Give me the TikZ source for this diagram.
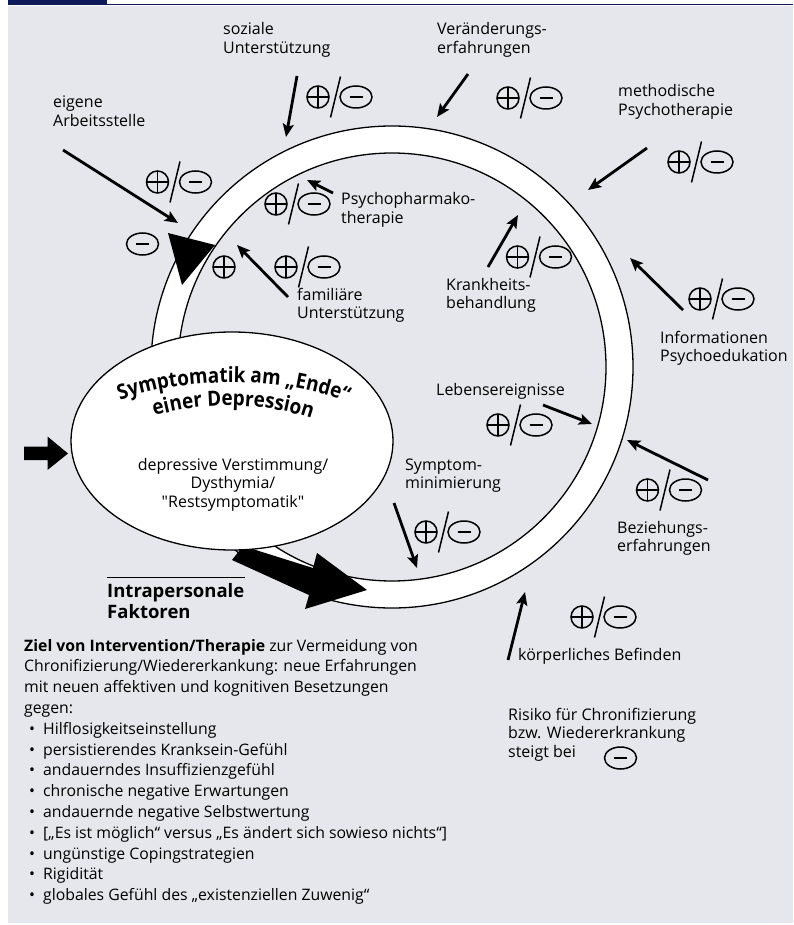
\documentclass[tikz,border=0pt]{standalone}
\usepackage{fontspec}
\setmainfont{Open Sans}[Ligatures=TeXOff]
\newfontfamily\titlefont{Open Sans}[Ligatures=TeXOff,FakeStretch=0.9]
\usetikzlibrary{arrows.meta,decorations.text,shapes.geometric}
\definecolor{bggray}{RGB}{230,231,237}
\definecolor{navyc}{RGB}{14,26,90}
\newcommand\lns[1]{\begin{tabular}[t]{@{}l@{}}#1\end{tabular}}
\newcommand\clns[1]{\begin{tabular}[t]{@{}c@{}}#1\end{tabular}}
\newcommand\bul{\makebox[19pt][l]{\hspace{5pt}•}}
\begin{document}
\begin{tikzpicture}[x=1pt,y=-1pt,
  lbl/.style={anchor=base west,inner sep=0pt,font=\fontsize{16}{18.7}\selectfont},
  arr/.style={line width=2.8pt,-{Stealth[length=13pt,width=11pt,inset=2.5pt]}},
  sym/.style={line width=1.5pt},
  pmsym/.pic={
    \draw[sym] (0,0) circle (11);
    \draw[sym] (-11,0)--(11,0) (0,-11)--(0,11);
    \draw[sym] (22.5,-20.5)--(12.5,20.5);
    \draw[sym] (38,0) ellipse (16 and 11);
    \draw[sym] (31.5,0)--(44.5,0);
  },
  minsym/.pic={
    \draw[sym] (0,0) ellipse (16 and 11);
    \draw[sym] (-6.5,0)--(6.5,0);
  },
  plussym/.pic={
    \draw[sym] (0,0) circle (11);
    \draw[sym] (-11,0)--(11,0) (0,-11)--(0,11);
  }
]
\useasboundingbox (0,0) rectangle (793,925);
% background
\fill[bggray] (8,6.5) rectangle (793,923);
\fill[navyc] (8,0) rectangle (107,5);
\draw[navyc,line width=1.6pt] (107,4.6) -- (793,4.6);

% ring
\draw[line width=1.3pt,fill=white,even odd rule] (392,367) circle (241) (392,367) circle (214);

% big bottom arrow (behind ellipse)
\fill (243,546) -- (313,568) -- (317,553) -- (367,590) -- (305,609) -- (309,595) -- (232,560) -- cycle;

% ellipse
\node[draw,line width=1.3pt,fill=white,ellipse,minimum width=322pt,minimum height=218pt,inner sep=0pt] (ell) at (232,441) {};
\path[decorate,decoration={text along path,text align=center,
  text={|\fontsize{21}{23}\titlefont\bfseries|Symptomatik am „Ende“}}]
  (112,404) .. controls (176,375) and (290,375) .. (355,406);
\path[decorate,decoration={text along path,text align=center,
  text={|\fontsize{21}{23}\titlefont\bfseries|einer Depression}}]
  (148,418) .. controls (200,401) and (265,401) .. (318,421);
\node[anchor=base,inner sep=0pt,font=\fontsize{16}{18.9}\selectfont] (elltxt) at (233,470)
  {\clns{depressive Verstimmung/\\Dysthymia/\\"Restsymptomatik"}};

% left input arrow
\fill (24,446.5) -- (47.5,446.5) -- (47.5,436.5) -- (68,453.5) -- (47.5,470) -- (47.5,460) -- (24,460) -- cycle;

% black triangle on ring
\fill (168,233) -- (215,245) -- (182,285) -- cycle;

% standalone signs
\pic at (142.5,244) {minsym};
\pic at (224,267) {plussym};
\pic at (620.5,758) {minsym};

% plus/minus symbols
\pic at (318,97) {pmsym};
\pic at (508,98) {pmsym};
\pic at (679,162) {pmsym};
\pic at (157.5,182) {pmsym};
\pic at (276,204) {pmsym};
\pic at (286,267) {pmsym};
\pic at (517.5,257) {pmsym};
\pic at (700,299) {pmsym};
\pic at (498,425) {pmsym};
\pic at (647.5,490) {pmsym};
\pic at (426,532) {pmsym};
\pic at (582,617) {pmsym};

% arrows
\coordinate (sozA) at (297,76);   \coordinate (sozB) at (286,137);
\coordinate (verA) at (468,74);   \coordinate (verB) at (437,117);
\coordinate (metA) at (647,148);  \coordinate (metB) at (588,190);
\coordinate (arbA) at (63,150);   \coordinate (arbB) at (178,223);
\coordinate (phaA) at (333,193);  \coordinate (phaB) at (307,180);
\coordinate (famA) at (288,297);  \coordinate (famB) at (237,245);
\coordinate (kraA) at (488,267);  \coordinate (kraB) at (518,215);
\coordinate (infA) at (683,310);  \coordinate (infB) at (630,258);
\coordinate (lebA) at (543,405);  \coordinate (lebB) at (592,424);
\coordinate (bezA) at (708,480);  \coordinate (bezB) at (627,440);
\coordinate (symA) at (394,503);  \coordinate (symB) at (417,568);
\coordinate (korA) at (508,660);  \coordinate (korB) at (525,592);
\foreach \n in {soz,ver,met,arb,pha,fam,kra,inf,leb,bez,sym,kor}
  \draw[arr] (\n A) -- (\n B);

% labels
\node[lbl] (soz) at (223,35) {\lns{soziale\\Unterstützung}};
\node[lbl] (ver) at (437,35) {\lns{Veränderungs-\\erfahrungen}};
\node[lbl] (met) at (618,97) {\lns{methodische\\Psychotherapie}};
\node[lbl] (arb) at (53,108) {\lns{eigene\\Arbeitsstelle}};
\node[lbl] (pha) at (341,205) {\lns{Psychopharmako-\\therapie}};
\node[lbl] (fam) at (297,300) {\lns{familiäre\\Unterstützung}};
\node[lbl] (kra) at (446,290) {\lns{Krankheits-\\behandlung}};
\node[lbl] (inf) at (660,343) {\lns{Informationen\\Psychoedukation}};
\node[lbl] (leb) at (436,395) {Lebensereignisse};
\node[lbl] (sym) at (405,470) {\lns{Symptom-\\minimierung}};
\node[lbl] (bez) at (617,533) {\lns{Beziehungs-\\erfahrungen}};
\node[lbl] (kor) at (518,660) {körperliches Befinden};
\node[lbl] (ris) at (508,720) {\lns{Risiko für Chronifizierung\\bzw. Wiedererkrankung\\steigt bei}};

% Intrapersonale Faktoren
\draw[line width=1pt] (107,577) -- (245,577);
\node[anchor=base west,inner sep=0pt,font=\fontsize{18.5}{21}\selectfont\bfseries] (intra) at (107,597)
  {\lns{Intrapersonale\\Faktoren}};

% bottom text
\node[anchor=base west,inner sep=0pt,font=\fontsize{15.8}{20.8}\selectfont] (ziel) at (24,651)
  {\lns{\textbf{Ziel von Intervention/Therapie} zur Vermeidung von\\
  Chronifizierung/Wiedererkankung: neue Erfahrungen\\
  mit neuen affektiven und kognitiven Besetzungen\\
  gegen:\\
  \bul Hilflosigkeitseinstellung\\
  \bul persistierendes Kranksein-Gefühl\\
  \bul andauerndes Insuffizienzgefühl\\
  \bul chronische negative Erwartungen\\
  \bul andauernde negative Selbstwertung\\
  \bul [„Es ist möglich“ versus „Es ändert sich sowieso nichts“]\\
  \bul ungünstige Copingstrategien\\
  \bul Rigidität\\
  \bul globales Gefühl des „existenziellen Zuwenig“}};
\end{tikzpicture}
\end{document}
